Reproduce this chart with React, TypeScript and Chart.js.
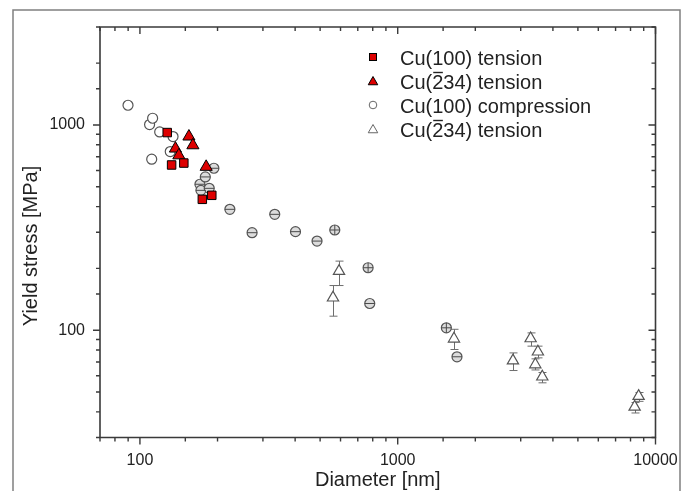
import React, { useEffect, useRef } from 'react';
import { Chart, registerables } from 'chart.js';

Chart.register(...registerables);

// ---------------- data ----------------
const seriesNames = ['Cu(100) tension', 'Cu(2\u030434) tension', 'Cu(100) compression', 'Cu(2\u030434) tension'];

const cu100TensionX = [127.6, 132.7, 148, 174.6, 190];
const cu100TensionY = [918, 638, 652, 434, 454];

const cu234TensionX = [137.3, 141.6, 154.9, 160.5, 180.7];
const cu234TensionY = [767, 711, 878, 796, 625];

const cu100CompX = [89.9, 109, 111.1, 112, 119.3, 131.1, 134.4, 170.9, 172.4, 179.3, 185.7, 193.6, 223.3, 272.3, 333.4, 401.3, 486.4, 570, 767.6, 778.9, 1544, 1698];
const cu100CompY = [1247, 1004, 681, 1078, 924, 742, 878, 514, 480, 558, 491, 615, 388, 298.5, 366.8, 302, 271.7, 307.7, 201.5, 134.9, 102.7, 74.2];
const cu100CompMark = ['o', 'o', 'o', 'o', 'o', 'o', 'o', '-', '-', '-', '-', '-', '-', '-', '-', '-', '-', '+', '+', '-', '+', '-'];

const cu234OpenX = [561, 592, 1653, 2799, 3278, 3418, 3498, 3638, 8300, 8600];
const cu234OpenY = [143.9, 194, 90.8, 71.1, 91.1, 68, 78.5, 59.3, 42.3, 47.7];
const cu234OpenHi = [165, 217, 101, 77.5, 97, 72.5, 83.6, 62.2, 44.4, 49.7];
const cu234OpenLo = [117, 165, 80.5, 63.6, 83.6, 64, 73.3, 55.4, 39.5, 45];

const xMin = 70;
const xMax = 10000;
const yMin = 30;
const yMax = 3000;
const xTitle = 'Diameter [nm]';
const yTitle = 'Yield stress [MPa]';

// ---------------- styling ----------------
const FONT = "'Liberation Sans', Arial, Helvetica, sans-serif";
const RED = '#dd0000';
const AXIS = '#3a3a3a';
const TEXT = '#222222';
const MACRON = '\u0304';

const isPow10 = (v: number) => {
  const l = Math.log10(v);
  return Math.abs(l - Math.round(l)) < 1e-6;
};

const pts = (xs: number[], ys: number[]) => xs.map((x, i) => ({ x, y: ys[i] }));

function triPath(ctx: CanvasRenderingContext2D, x: number, y: number, r: number) {
  ctx.beginPath();
  ctx.moveTo(x, y - r);
  ctx.lineTo(x + r * Math.sin((2 * Math.PI) / 3), y - r * Math.cos((2 * Math.PI) / 3));
  ctx.lineTo(x + r * Math.sin((4 * Math.PI) / 3), y - r * Math.cos((4 * Math.PI) / 3));
  ctx.closePath();
}

// draws a label; a combining macron is rendered as a bar over the preceding glyph
function drawLabel(ctx: CanvasRenderingContext2D, label: string, x: number, y: number) {
  const k = label.indexOf(MACRON);
  const plain = label.split(MACRON).join('');
  ctx.fillText(plain, x, y);
  if (k > 0) {
    const before = ctx.measureText(plain.slice(0, k - 1)).width;
    const w = ctx.measureText(plain.slice(k - 1, k)).width;
    ctx.save();
    ctx.strokeStyle = ctx.fillStyle as string;
    ctx.lineWidth = 1.4;
    ctx.beginPath();
    ctx.moveTo(x + before + 1, y - 16.5);
    ctx.lineTo(x + before + w - 0.5, y - 16.5);
    ctx.stroke();
    ctx.restore();
  }
}

const figurePlugin = {
  id: 'figurePlugin',
  beforeDraw(chart: any) {
    const ctx = chart.ctx as CanvasRenderingContext2D;
    ctx.save();
    ctx.strokeStyle = '#808080';
    ctx.lineWidth = 1.5;
    ctx.beginPath();
    ctx.moveTo(13, 495);
    ctx.lineTo(13, 10);
    ctx.lineTo(680, 10);
    ctx.lineTo(680, 495);
    ctx.stroke();
    ctx.restore();
  },
  beforeDatasetDraw(chart: any, args: any) {
    if (args.index !== 3) return;
    const ctx = chart.ctx as CanvasRenderingContext2D;
    const xs = chart.scales.x;
    const ys = chart.scales.y;
    ctx.save();
    ctx.strokeStyle = '#6e6e6e';
    ctx.lineWidth = 1;
    cu234OpenX.forEach((xv, i) => {
      const px = Math.round(xs.getPixelForValue(xv)) + 0.5;
      const hi = ys.getPixelForValue(cu234OpenHi[i]);
      const lo = ys.getPixelForValue(cu234OpenLo[i]);
      ctx.beginPath();
      ctx.moveTo(px, hi);
      ctx.lineTo(px, lo);
      ctx.moveTo(px - 4, hi);
      ctx.lineTo(px + 4, hi);
      ctx.moveTo(px - 4, lo);
      ctx.lineTo(px + 4, lo);
      ctx.stroke();
    });
    ctx.restore();
  },
  afterDatasetDraw(chart: any, args: any) {
    if (args.index !== 2) return;
    const ctx = chart.ctx as CanvasRenderingContext2D;
    const meta = chart.getDatasetMeta(2);
    ctx.save();
    ctx.strokeStyle = '#4a4a4a';
    ctx.lineWidth = 1;
    meta.data.forEach((el: any, i: number) => {
      const m = cu100CompMark[i];
      if (m === 'o') return;
      const r = 5;
      ctx.beginPath();
      ctx.moveTo(el.x - r, el.y);
      ctx.lineTo(el.x + r, el.y);
      if (m === '+') {
        ctx.moveTo(el.x, el.y - r);
        ctx.lineTo(el.x, el.y + r);
      }
      ctx.stroke();
    });
    ctx.restore();
  },
  afterDraw(chart: any) {
    const ctx = chart.ctx as CanvasRenderingContext2D;
    const { left, right, top, bottom } = chart.chartArea;
    const xs = chart.scales.x;
    const ys = chart.scales.y;
    ctx.save();
    ctx.strokeStyle = AXIS;
    ctx.lineWidth = 1.6;
    ctx.beginPath();
    ctx.rect(left, top, right - left, bottom - top);
    ctx.stroke();

    ctx.lineWidth = 1.4;
    ctx.beginPath();
    xs.ticks.forEach((t: any) => {
      const px = xs.getPixelForValue(t.value);
      const len = isPow10(t.value) ? 7 : 4;
      ctx.moveTo(px, bottom);
      ctx.lineTo(px, bottom + len);
      ctx.moveTo(px, top);
      ctx.lineTo(px, top + len);
    });
    ys.ticks.forEach((t: any) => {
      const py = ys.getPixelForValue(t.value);
      const len = isPow10(t.value) ? 7 : 4;
      ctx.moveTo(left, py);
      ctx.lineTo(left - len, py);
      ctx.moveTo(right, py);
      ctx.lineTo(right - len, py);
    });
    ctx.stroke();

    // axis titles
    ctx.fillStyle = TEXT;
    ctx.font = `20px ${FONT}`;
    ctx.textAlign = 'center';
    ctx.textBaseline = 'alphabetic';
    ctx.fillText(xTitle, (left + right) / 2, 486);
    ctx.save();
    ctx.translate(37, 246);
    ctx.rotate(-Math.PI / 2);
    ctx.fillText(yTitle, 0, 0);
    ctx.restore();

    // legend
    const lx = 373;
    const tx = 400;
    const rowY = [57, 81, 105, 129];
    ctx.textAlign = 'left';
    ctx.textBaseline = 'alphabetic';
    rowY.forEach((y, i) => {
      ctx.lineWidth = 1;
      if (i === 0) {
        ctx.fillStyle = RED;
        ctx.strokeStyle = '#000';
        ctx.fillRect(lx - 3.5, y - 3.5, 7, 7);
        ctx.strokeRect(lx - 3.5, y - 3.5, 7, 7);
      } else if (i === 1) {
        triPath(ctx, lx, y + 1, 5.5);
        ctx.fillStyle = RED;
        ctx.fill();
        ctx.strokeStyle = '#000';
        ctx.stroke();
      } else if (i === 2) {
        ctx.beginPath();
        ctx.arc(lx, y, 3.8, 0, Math.PI * 2);
        ctx.fillStyle = '#fff';
        ctx.fill();
        ctx.strokeStyle = '#666';
        ctx.stroke();
      } else {
        triPath(ctx, lx, y + 1, 5.5);
        ctx.fillStyle = '#fff';
        ctx.fill();
        ctx.strokeStyle = '#666';
        ctx.stroke();
      }
      ctx.fillStyle = TEXT;
      ctx.font = `20px ${FONT}`;
      drawLabel(ctx, seriesNames[i], tx, y + 8);
    });
    ctx.restore();
  },
};

export default function App() {
  const ref = useRef<HTMLCanvasElement | null>(null);

  useEffect(() => {
    if (!ref.current) return;
    const tickFont = { family: FONT, size: 16 };
    const chart = new Chart(ref.current, {
      type: 'scatter',
      data: {
        datasets: [
          {
            label: seriesNames[0],
            data: pts(cu100TensionX, cu100TensionY),
            pointStyle: 'rect',
            pointRadius: 6,
            backgroundColor: RED,
            borderColor: '#000',
            borderWidth: 1,
          },
          {
            label: seriesNames[1],
            data: pts(cu234TensionX, cu234TensionY),
            pointStyle: 'triangle',
            pointRadius: 7,
            backgroundColor: RED,
            borderColor: '#000',
            borderWidth: 1,
          },
          {
            label: seriesNames[2],
            data: pts(cu100CompX, cu100CompY),
            pointStyle: 'circle',
            pointRadius: 5,
            backgroundColor: (c: any) => (cu100CompMark[c.dataIndex] === 'o' ? '#ffffff' : '#dcdcdc'),
            borderColor: '#555',
            borderWidth: 1.2,
          },
          {
            label: seriesNames[3],
            data: pts(cu234OpenX, cu234OpenY),
            pointStyle: 'triangle',
            pointRadius: 6.5,
            backgroundColor: '#ffffff',
            borderColor: '#555',
            borderWidth: 1.2,
          },
        ],
      },
      options: {
        responsive: false,
        animation: false,
        events: [],
        layout: { padding: { left: 0, top: 27, right: 32.5, bottom: 0 } },
        plugins: { legend: { display: false }, tooltip: { enabled: false }, title: { display: false } },
        scales: {
          x: {
            type: 'logarithmic',
            min: xMin,
            max: xMax,
            grid: { display: false, drawTicks: false },
            border: { display: false },
            ticks: {
              autoSkip: false,
              maxRotation: 0,
              padding: 13,
              color: TEXT,
              font: tickFont,
              callback: (v: any) => (isPow10(Number(v)) ? String(Number(v)) : ''),
            },
            afterFit: (s: any) => {
              s.height = 53.5;
              s.paddingLeft = 0;
              s.paddingRight = 0;
            },
          },
          y: {
            type: 'logarithmic',
            min: yMin,
            max: yMax,
            grid: { display: false, drawTicks: false },
            border: { display: false },
            ticks: {
              autoSkip: false,
              padding: 15,
              color: TEXT,
              font: tickFont,
              callback: (v: any) => (isPow10(Number(v)) ? String(Number(v)) : ''),
            },
            afterFit: (s: any) => {
              s.width = 100;
              s.paddingTop = 0;
              s.paddingBottom = 0;
            },
          },
        },
      },
      plugins: [figurePlugin],
    } as any);
    return () => chart.destroy();
  }, []);

  return (
    <div style={{ position: 'absolute', left: 0, top: 0, width: 688, height: 491, background: '#fff' }}>
      <canvas ref={ref} width={688} height={491} style={{ width: 688, height: 491, display: 'block' }} />
    </div>
  );
}
